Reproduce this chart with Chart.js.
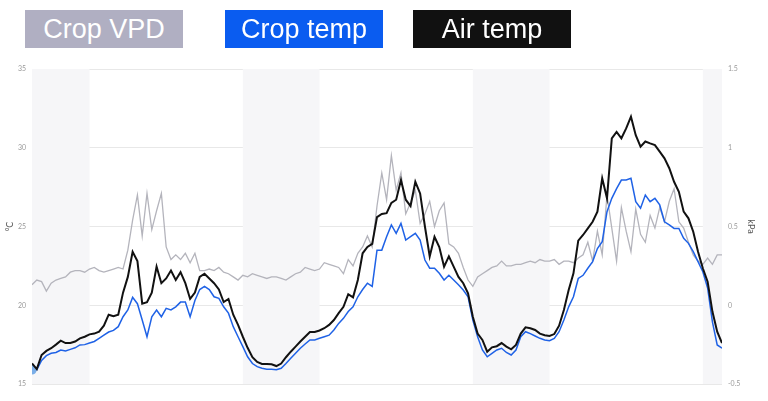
<!DOCTYPE html>
<html>
<head>
<meta charset="utf-8">
<script src="https://cdn.jsdelivr.net/npm/chart.js@4.4.0/dist/chart.umd.min.js"></script>
<style>
  body { margin: 0; background: #fff; }
  #wrap { position: relative; width: 768px; height: 401px; }
  #myChart { position: absolute; left: 0; top: 0; }
  .key {
    position: absolute; top: 10px; height: 38px; width: 158px;
    color: #fff; font-family: "Liberation Sans", Arial, sans-serif;
    font-size: 27px; line-height: 38px; text-align: center;
  }
</style>
</head>
<body>
<div id="wrap">
  <canvas id="myChart" width="768" height="401"></canvas>
  <div class="key" style="left:25px;background:#b0afc2;">Crop VPD</div>
  <div class="key" style="left:225px;background:#0a5cf0;">Crop temp</div>
  <div class="key" style="left:413px;background:#111111;">Air temp</div>
</div>
<script>
// readings every half hour, starting at midnight of day 1
var airTemp = [
  16.3, 15.95, 16.84, 17.1, 17.27, 17.5, 17.75, 17.6, 17.6, 17.7,
  17.9, 18.0, 18.15, 18.2, 18.32, 18.7, 19.4, 19.3, 19.4, 20.8,
  21.8, 23.4, 22.8, 20.1, 20.2, 20.8, 22.45, 21.4, 21.7, 22.2,
  21.6, 22.1, 21.4, 20.4, 20.8, 21.8, 22.0, 21.7, 21.4, 21.0,
  20.2, 20.4, 19.4, 18.75, 18.0, 17.3, 16.7, 16.4, 16.27, 16.27,
  16.25, 16.14, 16.3, 16.7, 17.05, 17.37, 17.7, 18.0, 18.3, 18.3,
  18.4, 18.54, 18.75, 19.06, 19.5, 19.9, 20.7, 20.5, 21.6, 23.3,
  23.7, 23.9, 25.6, 25.8, 25.85, 26.5, 26.7, 27.95, 26.7, 26.3,
  27.84, 27.1, 25.0, 23.1, 24.35, 23.7, 22.45, 23.1, 22.45, 21.8,
  21.4, 20.76, 19.27, 18.2, 17.8, 17.05, 17.33, 17.4, 17.6, 17.37,
  17.2, 17.48, 18.2, 18.6, 18.54, 18.43, 18.2, 18.1, 18.05, 18.17,
  18.7, 19.7, 20.97, 22.03, 24.1, 24.46, 24.88, 25.3, 25.94, 28.06,
  26.79, 30.6, 31.0, 30.6, 31.23, 31.97, 30.8, 30.07, 30.4, 30.28,
  30.17, 29.75, 29.33, 28.7, 27.84, 27.2, 25.94, 25.52, 24.67, 23.4,
  22.35, 21.5, 19.6, 18.32, 17.6
];

var cropTemp = [
  15.9, 15.9, 16.5, 16.8, 16.95, 17.0, 17.16, 17.1, 17.2, 17.3,
  17.48, 17.5, 17.6, 17.7, 17.9, 18.1, 18.3, 18.4, 18.64, 19.27,
  19.7, 20.5, 20.1, 19.06, 18.0, 19.27, 19.7, 19.27, 19.8, 19.7,
  19.9, 20.2, 20.2, 19.27, 20.3, 21.0, 21.2, 21.0, 20.54, 20.44,
  19.9, 19.5, 18.64, 18.0, 17.37, 16.73, 16.3, 16.1, 16.0, 15.93,
  15.93, 15.9, 16.0, 16.3, 16.63, 16.95, 17.27, 17.54, 17.8, 17.8,
  17.9, 18.0, 18.1, 18.43, 18.85, 19.17, 19.6, 19.9, 20.54, 21.0,
  21.4, 21.2, 23.5, 23.5, 24.35, 25.1, 24.57, 25.2, 24.14, 24.35,
  24.57, 24.14, 22.87, 22.35, 22.35, 22.03, 21.6, 21.9, 21.6, 21.3,
  20.97, 20.54, 19.06, 18.0, 17.16, 16.73, 16.95, 17.16, 17.27, 17.0,
  16.84, 17.16, 18.0, 18.32, 18.2, 18.05, 17.9, 17.8, 17.75, 17.9,
  18.32, 19.06, 19.9, 20.54, 21.7, 21.9, 22.35, 22.77, 23.6, 24.04,
  25.94, 26.79, 27.4, 27.95, 27.95, 28.06, 26.58, 26.16, 27.0, 26.58,
  26.79, 26.37, 25.3, 25.1, 24.88, 24.88, 24.25, 23.93, 23.4, 22.77,
  22.13, 21.1, 18.95, 17.48, 17.27
];

var cropVpd = [
  0.13, 0.16, 0.15, 0.09, 0.14, 0.16, 0.17, 0.18, 0.21, 0.22,
  0.22, 0.21, 0.23, 0.24, 0.22, 0.21, 0.22, 0.23, 0.24, 0.23,
  0.35, 0.54, 0.70, 0.44, 0.71, 0.48, 0.60, 0.71, 0.37, 0.29,
  0.32, 0.29, 0.33, 0.27, 0.33, 0.22, 0.22, 0.23, 0.22, 0.24,
  0.21, 0.20, 0.18, 0.16, 0.19, 0.18, 0.20, 0.19, 0.18, 0.17,
  0.18, 0.18, 0.17, 0.16, 0.18, 0.20, 0.21, 0.24, 0.23, 0.22,
  0.23, 0.27, 0.26, 0.25, 0.24, 0.20, 0.29, 0.25, 0.33, 0.37,
  0.44, 0.37, 0.63, 0.84, 0.67, 0.95, 0.73, 0.84, 0.58, 0.65,
  0.73, 0.52, 0.58, 0.66, 0.50, 0.60, 0.65, 0.39, 0.37, 0.33,
  0.24, 0.16, 0.12, 0.18, 0.20, 0.22, 0.24, 0.25, 0.28, 0.25,
  0.25, 0.26, 0.26, 0.27, 0.28, 0.27, 0.29, 0.28, 0.28, 0.29,
  0.26, 0.28, 0.28, 0.27, 0.30, 0.32, 0.40, 0.28, 0.47, 0.32,
  0.70, 0.49, 0.28, 0.62, 0.47, 0.34, 0.61, 0.45, 0.40, 0.57,
  0.49, 0.62, 0.53, 0.66, 0.74, 0.53, 0.49, 0.40, 0.32, 0.28,
  0.26, 0.30, 0.26, 0.32, 0.32
];

// night periods (hours from start) shaded grey
var nightStart = [0, 22, 46, 70];
var nightEnd = [6, 30, 54, 72];

var tempTicks = [15, 20, 25, 30, 35];
var vpdTicks = [-0.5, 0, 0.5, 1, 1.5];

var hours = airTemp.map(function (v, i) { return i * 0.5; });

function pairs(values) {
    return values.map(function (v, i) {
        return { x: hours[i], y: v };
    });
}

var nightBands = {
    id: 'nightBands',
    beforeDatasetsDraw: function (chart) {
        var ctx = chart.ctx;
        var xs = chart.scales.x;
        var area = chart.chartArea;
        ctx.save();
        ctx.fillStyle = '#f6f6f8';
        for (var i = 0; i < nightStart.length; i++) {
            var a = xs.getPixelForValue(nightStart[i]);
            var b = xs.getPixelForValue(nightEnd[i]);
            ctx.fillRect(a, area.top, b - a, area.bottom - area.top);
        }
        ctx.restore();
    }
};

var tickFont = { family: 'Lato, "Open Sans", sans-serif', size: 7 };

var ctx = document.getElementById('myChart').getContext('2d');
var chart = new Chart(ctx, {
    type: 'line',
    data: {
        datasets: [{
            label: 'Air temp',
            data: pairs(airTemp),
            borderColor: '#111111',
            borderWidth: 2,
            pointRadius: 0,
            yAxisID: 'y'
        }, {
            label: 'Crop temp',
            data: pairs(cropTemp),
            borderColor: '#1f62e6',
            borderWidth: 1.5,
            pointRadius: function (c) { return c.dataIndex === 0 ? 4 : 0; },
            pointBackgroundColor: '#7aaee8',
            pointBorderColor: '#7aaee8',
            yAxisID: 'y'
        }, {
            label: 'Crop VPD',
            data: pairs(cropVpd),
            borderColor: '#b4b4bc',
            borderWidth: 1.3,
            pointRadius: 0,
            yAxisID: 'y1'
        }]
    },
    plugins: [nightBands],
    options: {
        responsive: false,
        animation: false,
        layout: { padding: { top: 69, bottom: 17, left: 0, right: 0 } },
        plugins: { legend: { display: false }, tooltip: { enabled: false } },
        scales: {
            x: {
                type: 'linear',
                min: 0,
                max: 72,
                ticks: { display: false, stepSize: 24 },
                border: { display: false },
                grid: {
                    drawTicks: false,
                    color: function (c) {
                        var v = c.tick && c.tick.value;
                        return (v === 24 || v === 48) ? '#e8e8ec' : 'rgba(0,0,0,0)';
                    }
                },
                afterFit: function (s) { s.height = 0; }
            },
            y: {
                position: 'left',
                min: 15,
                max: 35,
                afterBuildTicks: function (s) {
                    s.ticks = tempTicks.map(function (v) { return { value: v }; });
                },
                ticks: { color: '#9a9a9a', font: tickFont, padding: 6 },
                border: { display: false },
                grid: { color: '#e8e8e8', drawTicks: false },
                title: {
                    display: true, text: '°C', color: '#555',
                    font: { family: 'Lato, sans-serif', size: 9 },
                    padding: { top: 5, bottom: 0 }
                },
                afterFit: function (s) { s.width = 32; }
            },
            y1: {
                position: 'right',
                min: -0.5,
                max: 1.5,
                afterBuildTicks: function (s) {
                    s.ticks = vpdTicks.map(function (v) { return { value: v }; });
                },
                ticks: {
                    color: '#9a9a9a', font: tickFont, padding: 6,
                    callback: function (v) { return String(v); }
                },
                border: { display: false },
                grid: { display: false, drawTicks: false },
                title: {
                    display: true, text: 'kPa', color: '#555',
                    font: { family: 'Lato, sans-serif', size: 9 },
                    padding: { top: 12, bottom: 0 }
                },
                afterFit: function (s) { s.width = 46; }
            }
        }
    }
});
</script>
</body>
</html>
